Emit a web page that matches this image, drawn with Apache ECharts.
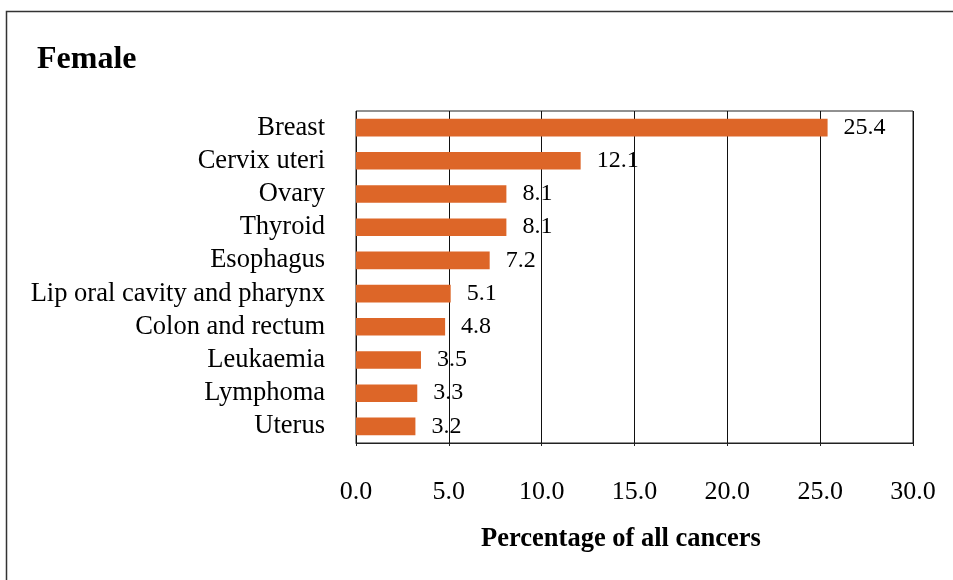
<!DOCTYPE html>
<html><head><meta charset="utf-8">
<script src="https://cdn.jsdelivr.net/npm/echarts@6/dist/echarts.min.js"></script>
<style>html,body{margin:0;padding:0;background:#fff}#c{width:953px;height:580px}</style>
</head><body><div id="c"></div>
<script>
const categories = ["Breast","Cervix uteri","Ovary","Thyroid","Esophagus","Lip oral cavity and pharynx","Colon and rectum","Leukaemia","Lymphoma","Uterus"];
const values = [25.4,12.1,8.1,8.1,7.2,5.1,4.8,3.5,3.3,3.2];
const xTicks = [0,5,10,15,20,25,30];
const titleText = "Female";
const axisTitle = "Percentage of all cancers";

const serif = "'Liberation Serif','Times New Roman',serif";
const chart = echarts.init(document.getElementById('c'), null, {renderer:'canvas'});
chart.setOption({
  animation:false,
  backgroundColor:'#fff',
  title:[
    {text:titleText,left:32,top:39,textStyle:{fontFamily:serif,fontSize:32,fontWeight:'bold',color:'#000'}},
    {text:axisTitle,left:616,top:521,textAlign:'center',textStyle:{fontFamily:serif,fontSize:26.5,fontWeight:'bold',color:'#000'}}
  ],
  graphic:[{type:'rect',shape:{x:6.5,y:11.5,width:2000,height:2000},style:{fill:'none',stroke:'#333',lineWidth:1.5},silent:true}],
  grid:{left:356,top:111,right:40,bottom:137,show:true,borderColor:'#222',borderWidth:1,backgroundColor:'transparent'},
  xAxis:{type:'value',min:xTicks[0],max:xTicks[xTicks.length-1],interval:5,
    axisLine:{show:true,lineStyle:{color:'#222',width:1}},
    axisTick:{show:true,length:3,inside:false,lineStyle:{color:'#222'}},
    splitLine:{show:true,lineStyle:{color:'#111',width:1}},
    axisLabel:{margin:36,fontFamily:serif,fontSize:26,color:'#000',formatter:v=>v.toFixed(1)}},
  yAxis:{type:'category',data:categories,inverse:true,
    axisLine:{show:false},axisTick:{show:false},splitLine:{show:false},
    axisLabel:{interval:0,hideOverlap:false,margin:31,fontFamily:serif,fontSize:26.5,color:'#000'}},
  series:[{type:'bar',data:values,barCategoryGap:'47%',
    itemStyle:{color:'#DD6628'},
    label:{show:true,position:'right',distance:16,fontFamily:serif,fontSize:24,color:'#000',formatter:p=>p.value.toFixed(1)}}]
});
</script></body></html>
